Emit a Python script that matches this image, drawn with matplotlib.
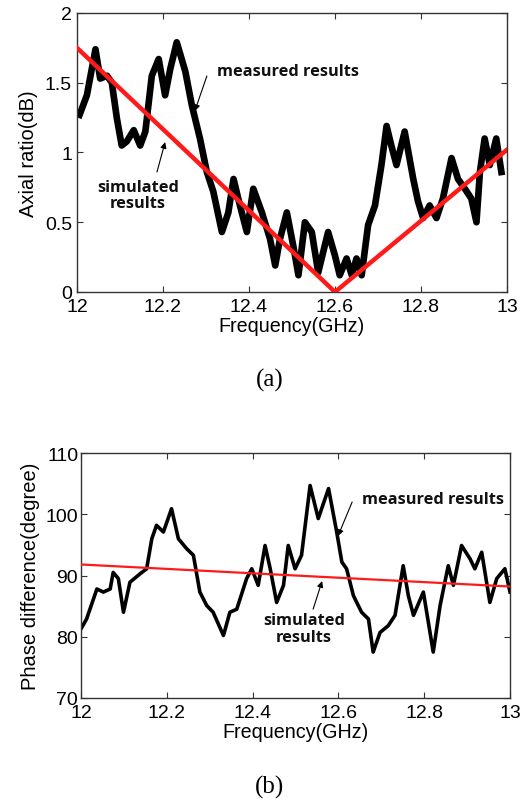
import numpy as np
import matplotlib
matplotlib.use('Agg')
import matplotlib.pyplot as plt

# (a) axial ratio, measured
ar_freq = [12.006, 12.023, 12.043, 12.054, 12.070, 12.081, 12.093, 12.104, 12.116,
           12.132, 12.147, 12.159, 12.174, 12.190, 12.205, 12.217, 12.232, 12.252,
           12.267, 12.286, 12.302, 12.317, 12.337, 12.352, 12.364, 12.379, 12.395,
           12.410, 12.430, 12.449, 12.461, 12.472, 12.488, 12.503, 12.515, 12.530,
           12.546, 12.561, 12.584, 12.600, 12.611, 12.627, 12.639, 12.650, 12.662,
           12.677, 12.693, 12.708, 12.720, 12.731, 12.743, 12.762, 12.782, 12.793,
           12.805, 12.820, 12.836, 12.851, 12.871, 12.886, 12.902, 12.917, 12.929,
           12.937, 12.948, 12.960, 12.975, 12.987]
ar_meas = [1.27, 1.41, 1.74, 1.53, 1.55, 1.50, 1.24, 1.05, 1.08,
           1.16, 1.05, 1.15, 1.55, 1.67, 1.41, 1.60, 1.79, 1.58,
           1.34, 1.10, 0.86, 0.72, 0.43, 0.57, 0.81, 0.62, 0.43,
           0.74, 0.57, 0.38, 0.19, 0.38, 0.57, 0.33, 0.12, 0.50,
           0.43, 0.14, 0.43, 0.26, 0.12, 0.24, 0.12, 0.24, 0.12,
           0.48, 0.62, 0.91, 1.19, 1.05, 0.91, 1.15, 0.81, 0.65,
           0.53, 0.62, 0.53, 0.67, 0.96, 0.81, 0.74, 0.67, 0.50,
           0.86, 1.10, 0.91, 1.10, 0.86]

# (a) axial ratio, simulated
ar_sim_freq = [12.0, 12.6, 13.0]
ar_sim = [1.75, 0.0, 1.02]

# (b) phase difference, measured
ph_freq = [12.000, 12.013, 12.037, 12.052, 12.068, 12.075, 12.087, 12.099, 12.114,
           12.138, 12.153, 12.165, 12.176, 12.192, 12.211, 12.227, 12.246, 12.262,
           12.277, 12.293, 12.308, 12.332, 12.347, 12.363, 12.386, 12.398, 12.413,
           12.429, 12.441, 12.456, 12.472, 12.483, 12.499, 12.514, 12.534, 12.553,
           12.577, 12.596, 12.608, 12.619, 12.635, 12.654, 12.670, 12.681, 12.697,
           12.716, 12.732, 12.751, 12.763, 12.775, 12.798, 12.821, 12.837, 12.856,
           12.868, 12.887, 12.907, 12.918, 12.934, 12.953, 12.969, 12.988, 13.000]
ph_meas = [81.3, 82.9, 87.8, 87.3, 87.8, 90.5, 89.5, 84.0, 88.9,
           90.3, 91.1, 96.0, 98.2, 97.1, 100.9, 96.0, 94.4, 93.3,
           87.3, 85.1, 84.0, 80.2, 84.0, 84.5, 89.5, 91.1, 88.4,
           94.9, 91.1, 85.6, 88.4, 94.9, 91.1, 93.3, 104.7, 99.3,
           104.2, 97.1, 92.2, 91.1, 86.7, 84.0, 82.9, 77.5, 80.7,
           81.8, 83.5, 91.6, 86.7, 83.5, 87.3, 77.5, 85.1, 91.6,
           88.4, 94.9, 92.7, 91.1, 93.8, 85.6, 89.5, 91.1, 87.3]

# (b) phase difference, simulated
ph_sim_freq = [12.0, 13.0]
ph_sim = [91.8, 88.2]

xticks = [12, 12.2, 12.4, 12.6, 12.8, 13]
xticklabels = ['12', '12.2', '12.4', '12.6', '12.8', '13']

axis_font = 'Liberation Sans'
note_font = dict(family='Open Sans', fontweight='bold', fontsize=11.8, color='#111111')
arrow = dict(arrowstyle='-|>', color='black', lw=0.8, mutation_scale=9,
             shrinkA=0, shrinkB=0)

fig = plt.figure(figsize=(5.23, 8.04), dpi=100)
ax1 = fig.add_axes([0.1472, 0.6356, 0.8222, 0.3470])
ax2 = fig.add_axes([0.1549, 0.1306, 0.8203, 0.3047])

# top panel
ax1.plot(ar_freq, ar_meas, color='black', lw=4.8, solid_joinstyle='round', zorder=2)
ax1.plot(ar_sim_freq, ar_sim, color='#ff1a1a', lw=3.2, zorder=3)
ax1.set_xlim(12, 13)
ax1.set_ylim(0, 2)
ax1.set_yticks([0, 0.5, 1, 1.5, 2])
ax1.set_yticklabels(['0', '0.5', '1', '1.5', '2'])
ax1.set_ylabel('Axial ratio(dB)', fontsize=14.5, family=axis_font, labelpad=5)
ax1.tick_params(axis='y', pad=3.5)
ax1.annotate('', xy=(12.274, 1.297), xytext=(12.302, 1.548), arrowprops=arrow)
ax1.annotate('', xy=(12.205, 1.075), xytext=(12.186, 0.860), arrowprops=arrow)
ax1.text(12.326, 1.584, 'measured results', ha='left', va='center', **note_font)
ax1.text(12.142, 0.695, 'simulated\nresults', ha='center', va='center',
         linespacing=1.05, **note_font)

# bottom panel
ax2.plot(ph_freq, ph_meas, color='black', lw=2.6, solid_joinstyle='round', zorder=2)
ax2.plot(ph_sim_freq, ph_sim, color='#ff1a1a', lw=1.6, zorder=3)
ax2.set_xlim(12, 13)
ax2.set_ylim(70, 110)
ax2.set_yticks([70, 80, 90, 100, 110])
ax2.set_ylabel('Phase difference(degree)', fontsize=14.5, family=axis_font, labelpad=4)
ax2.tick_params(axis='y', pad=2)
ax2.annotate('', xy=(12.599, 96.45), xytext=(12.632, 102.0), arrowprops=arrow)
ax2.annotate('', xy=(12.562, 89.1), xytext=(12.541, 84.5), arrowprops=arrow)
ax2.text(12.655, 102.5, 'measured results', ha='left', va='center', **note_font)
ax2.text(12.520, 81.35, 'simulated\nresults', ha='center', va='center',
         linespacing=1.05, **note_font)

for ax in (ax1, ax2):
    ax.set_xticks(xticks)
    ax.set_xticklabels(xticklabels)
    ax.set_xlabel('Frequency(GHz)', fontsize=14.2, family=axis_font, labelpad=1)
    ax.tick_params(direction='in', top=True, right=True, length=4, width=0.8,
                   labelsize=14, color='#333333')
    ax.tick_params(axis='x', pad=4)
    for lab in ax.get_xticklabels() + ax.get_yticklabels():
        lab.set_family(axis_font)
    for sp in ax.spines.values():
        sp.set_color('#333333')
        sp.set_linewidth(1.0)

fig.text(0.516, 0.527, '(a)', ha='center', va='center', fontsize=18,
         family='Liberation Serif')
fig.text(0.516, 0.0211, '(b)', ha='center', va='center', fontsize=18,
         family='Liberation Serif')

fig.savefig('out.png', dpi=100)
